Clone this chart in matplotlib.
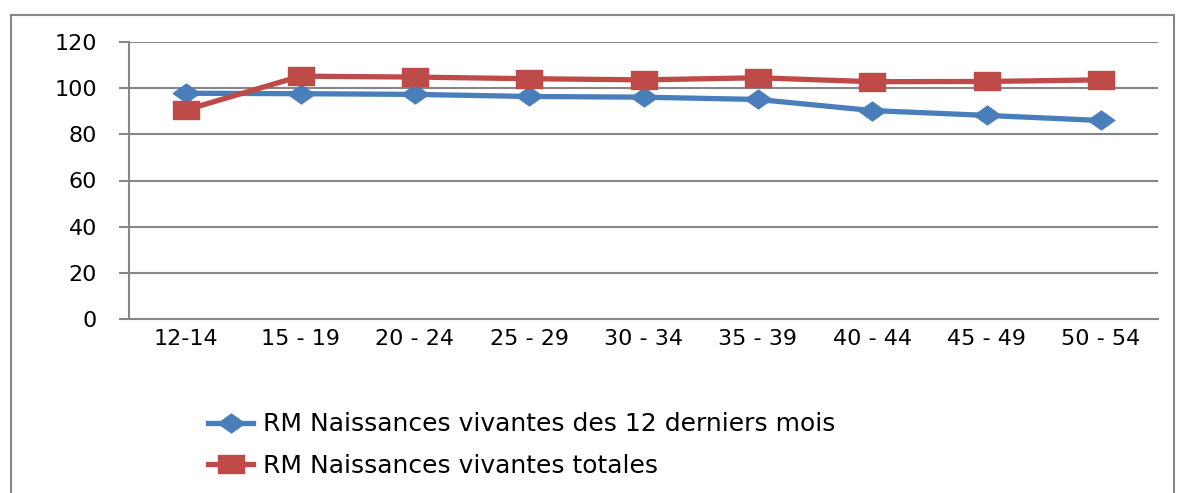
import matplotlib
matplotlib.use("Agg")
import matplotlib.pyplot as plt
from matplotlib.patches import Rectangle

categories = ["12-14", "15 - 19", "20 - 24", "25 - 29", "30 - 34",
              "35 - 39", "40 - 44", "45 - 49", "50 - 54"]
rm_12_mois = [97.8, 97.6, 97.3, 96.4, 96.1, 95.1, 90.3, 88.2, 86.0]
rm_totales = [90.6, 105.2, 104.8, 104.1, 103.6, 104.5, 102.8, 102.9, 103.6]

label_12 = "RM Naissances vivantes des 12 derniers mois"
label_tot = "RM Naissances vivantes totales"

blue = "#4A7EBB"
red = "#BE4B48"
grey = "#868686"

# the original is stretched sideways, so markers are wider than tall
diamond = [(-0.7, 0), (0, -0.5), (0.7, 0), (0, 0.5), (-0.7, 0)]
square = [(-0.75, -0.5), (0.75, -0.5), (0.75, 0.5), (-0.75, 0.5), (-0.75, -0.5)]

plt.rcParams['font.family'] = ['DejaVu Sans']

fig = plt.figure(figsize=(11.79, 4.93), dpi=100)
ax = fig.add_axes([129 / 1179, 1 - 319 / 493, 1029 / 1179, 277 / 493])

x = [i + 0.5 for i in range(len(categories))]
ax.plot(x, rm_12_mois, color=blue, lw=3.8, marker=diamond, ms=19,
        mfc=blue, mec=blue, label=label_12, zorder=3)
ax.plot(x, rm_totales, color=red, lw=3.8, marker=square, ms=19,
        mfc=red, mec=red, label=label_tot, zorder=3)

ax.set_xlim(0, len(categories))
ax.set_ylim(0, 120)
ax.set_yticks(range(0, 121, 20))
ax.set_xticks(x)
ax.set_xticklabels(categories)
ax.grid(axis='y', color=grey, lw=1.5)
ax.set_axisbelow(True)

for s in ['top', 'right']:
    ax.spines[s].set_visible(False)
for s in ['left', 'bottom']:
    ax.spines[s].set_color(grey)
    ax.spines[s].set_linewidth(1.5)

ax.tick_params(axis='y', length=7, width=1.5, color=grey, pad=16, labelsize=16)
ax.tick_params(axis='x', length=0, pad=7, labelsize=16)

fig.legend(loc='center left', bbox_to_anchor=(208 / 1179, 1 - 445 / 493),
           frameon=False, fontsize=18, handlelength=1.8, handletextpad=0.4,
           labelspacing=0.7, borderpad=0, borderaxespad=0)

# outer chart border (runs off the bottom edge)
fig.patches.append(Rectangle((11 / 1179, -0.1), 1163 / 1179, 1.1 - 15 / 493,
                             transform=fig.transFigure, fill=False,
                             edgecolor=grey, lw=1.5))

fig.savefig("out.png", dpi=100)
